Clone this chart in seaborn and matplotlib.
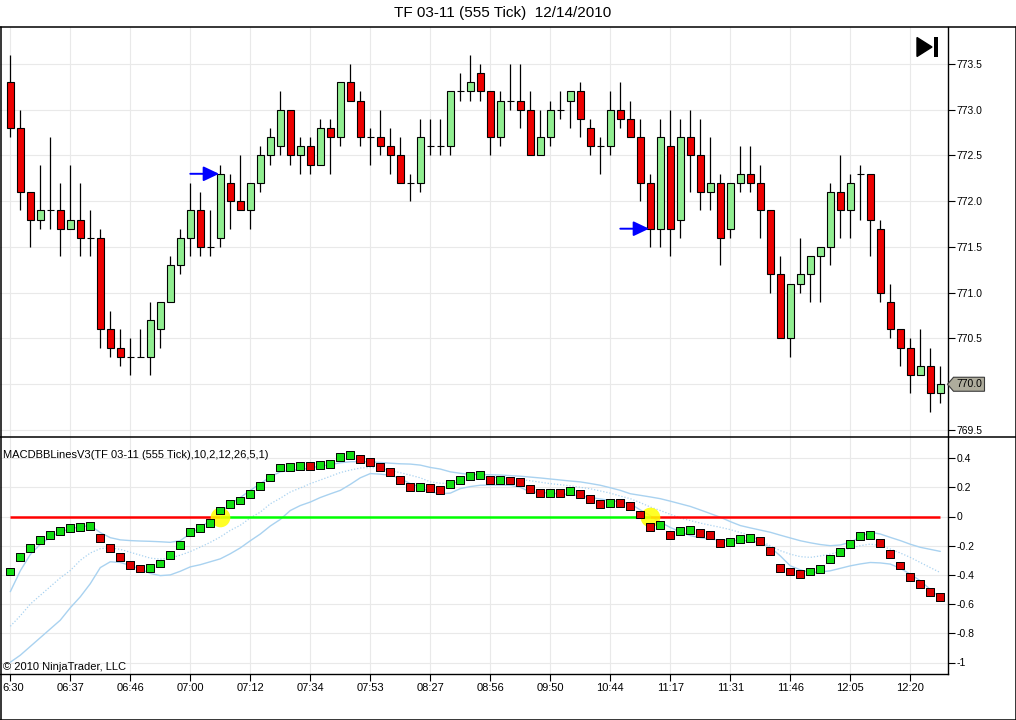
import numpy as np
import pandas as pd
import matplotlib
matplotlib.use("Agg")
import matplotlib.pyplot as plt
import matplotlib.transforms as mtransforms
from matplotlib.patches import Polygon, Rectangle
from matplotlib.lines import Line2D
import seaborn as sns

# ---------------- data ----------------
title = "TF 03-11 (555 Tick)  12/14/2010"
indicator_label = "MACDBBLinesV3(TF 03-11 (555 Tick),10,2,12,26,5,1)"
copyright_label = "\u00a9 2010 NinjaTrader, LLC"

opens = [773.3, 772.8, 772.1, 771.8, 771.9, 771.9, 771.7, 771.8, 771.6, 771.6,
         770.6, 770.4, 770.3, 770.3, 770.3, 770.6, 770.9, 771.3, 771.6, 771.9,
         771.5, 771.6, 772.2, 772.0, 771.9, 772.2, 772.5, 772.6, 773.0, 772.5,
         772.6, 772.4, 772.8, 772.7, 773.3, 773.1, 772.7, 772.7, 772.6, 772.5,
         772.2, 772.2, 772.6, 772.6, 772.6, 773.2, 773.2, 773.4, 773.2, 772.7,
         773.1, 773.1, 773.0, 772.5, 772.7, 773.0, 773.1, 773.2, 772.8, 772.6,
         772.6, 773.0, 772.9, 772.7, 772.2, 771.7, 772.6, 771.8, 772.7, 772.5,
         772.1, 772.2, 771.7, 772.2, 772.3, 772.2, 771.9, 771.2, 770.5, 771.1,
         771.2, 771.4, 771.5, 772.1, 771.9, 772.3, 772.3, 771.7, 770.9, 770.6,
         770.4, 770.1, 770.2, 769.9]
highs = [773.6, 773.0, 772.1, 772.4, 772.7, 772.2, 772.4, 772.2, 771.9, 771.7,
         770.8, 770.6, 770.5, 770.6, 770.9, 770.9, 771.4, 771.7, 772.2, 772.1,
         771.9, 772.4, 772.3, 772.5, 772.2, 772.6, 772.8, 773.2, 773.0, 772.7,
         772.7, 772.9, 772.9, 773.3, 773.5, 773.2, 772.8, 773.0, 772.8, 772.7,
         772.3, 772.9, 772.9, 772.9, 773.2, 773.4, 773.6, 773.5, 773.2, 773.2,
         773.5, 773.5, 773.2, 773.0, 773.1, 773.2, 773.2, 773.3, 772.9, 772.7,
         773.2, 773.3, 773.1, 772.9, 772.3, 772.9, 773.0, 772.9, 773.0, 772.9,
         772.7, 772.3, 772.2, 772.6, 772.6, 772.4, 771.9, 771.4, 771.1, 771.6,
         771.4, 771.5, 772.2, 772.5, 772.3, 772.4, 772.3, 771.8, 771.1, 770.6,
         770.5, 770.6, 770.4, 770.2]
lows = [772.7, 771.9, 771.5, 771.7, 771.7, 771.4, 771.7, 771.4, 771.4, 770.4,
        770.3, 770.2, 770.1, 770.3, 770.1, 770.4, 770.9, 771.2, 771.4, 771.4,
        771.4, 771.5, 771.7, 771.9, 771.7, 772.1, 772.4, 772.5, 772.4, 772.3,
        772.3, 772.4, 772.3, 772.6, 773.1, 772.6, 772.4, 772.5, 772.3, 772.2,
        772.0, 772.1, 772.5, 772.5, 772.5, 773.1, 773.1, 773.1, 772.5, 772.6,
        773.0, 772.8, 772.5, 772.5, 772.6, 772.9, 772.8, 772.7, 772.5, 772.3,
        772.5, 772.8, 772.7, 772.0, 771.5, 771.5, 771.4, 771.6, 772.1, 771.9,
        771.9, 771.3, 771.6, 772.1, 772.1, 771.6, 771.0, 770.5, 770.3, 771.0,
        770.9, 770.9, 771.3, 771.6, 771.6, 771.8, 771.4, 770.9, 770.5, 770.2,
        769.9, 770.1, 769.7, 769.8]
closes = [772.8, 772.1, 771.8, 771.9, 771.9, 771.7, 771.8, 771.6, 771.6, 770.6,
          770.4, 770.3, 770.3, 770.3, 770.7, 770.9, 771.3, 771.6, 771.9, 771.5,
          771.5, 772.3, 772.0, 771.9, 772.2, 772.5, 772.7, 773.0, 772.5, 772.6,
          772.4, 772.8, 772.7, 773.3, 773.1, 772.7, 772.7, 772.6, 772.5, 772.2,
          772.2, 772.7, 772.6, 772.6, 773.2, 773.2, 773.3, 773.2, 772.7, 773.1,
          773.1, 773.0, 772.5, 772.7, 773.0, 773.0, 773.2, 772.9, 772.6, 772.6,
          773.0, 772.9, 772.7, 772.2, 771.7, 772.7, 771.7, 772.7, 772.5, 772.1,
          772.2, 771.6, 772.2, 772.3, 772.2, 771.9, 771.2, 770.5, 771.1, 771.2,
          771.4, 771.5, 772.1, 771.9, 772.2, 772.3, 771.8, 771.0, 770.6, 770.4,
          770.1, 770.2, 769.9, 770.0]

macd = [-0.377, -0.280, -0.218, -0.163, -0.124, -0.101, -0.076, -0.069, -0.067, -0.145,
        -0.218, -0.280, -0.331, -0.356, -0.352, -0.322, -0.262, -0.193, -0.108, -0.076,
        -0.046, 0.041, 0.085, 0.110, 0.154, 0.209, 0.267, 0.336, 0.340, 0.347,
        0.343, 0.352, 0.359, 0.409, 0.421, 0.393, 0.372, 0.340, 0.303, 0.248,
        0.202, 0.203, 0.193, 0.179, 0.223, 0.248, 0.278, 0.285, 0.248, 0.249,
        0.247, 0.234, 0.186, 0.161, 0.162, 0.160, 0.175, 0.154, 0.117, 0.085,
        0.092, 0.090, 0.071, 0.014, -0.074, -0.060, -0.129, -0.097, -0.090, -0.115,
        -0.129, -0.184, -0.177, -0.156, -0.149, -0.170, -0.239, -0.352, -0.377, -0.391,
        -0.377, -0.359, -0.290, -0.246, -0.191, -0.136, -0.129, -0.184, -0.258, -0.336,
        -0.414, -0.462, -0.515, -0.552]
dot_dir = (["up"] * 9 + ["dn"] * 5 + ["up"] * 16 + ["dn"] + ["up"] * 4 + ["dn"] * 6 +
           ["up"] + ["dn"] * 2 + ["up"] * 4 + ["dn"] + ["up"] + ["dn"] * 4 + ["up"] +
           ["dn"] + ["up"] + ["dn"] * 3 + ["up"] + ["dn"] * 4 + ["up"] + ["dn"] +
           ["up"] * 2 + ["dn"] * 3 + ["up"] * 3 + ["dn"] * 5 + ["up"] * 7 + ["dn"] * 7)

band_upper = [-0.515, -0.372, -0.260, -0.190, -0.143, -0.105, -0.085, -0.070, -0.062, -0.110,
              -0.145, -0.160, -0.165, -0.168, -0.170, -0.173, -0.177, -0.165, -0.117, -0.075,
              -0.028, 0.025, 0.085, 0.130, 0.179, 0.225, 0.271, 0.306, 0.315, 0.322,
              0.333, 0.345, 0.355, 0.368, 0.375, 0.376, 0.374, 0.370, 0.365, 0.361,
              0.359, 0.352, 0.336, 0.325, 0.306, 0.296, 0.287, 0.287, 0.286, 0.284,
              0.280, 0.276, 0.270, 0.264, 0.257, 0.250, 0.243, 0.237, 0.226, 0.214,
              0.197, 0.179, 0.156, 0.145, 0.134, 0.122, 0.105, 0.087, 0.069, 0.045,
              0.020, -0.005, -0.035, -0.062, -0.078, -0.093, -0.108, -0.128, -0.147, -0.166,
              -0.180, -0.192, -0.200, -0.195, -0.177, -0.140, -0.108, -0.120, -0.143, -0.165,
              -0.190, -0.211, -0.225, -0.239]
band_mid = [-0.752, -0.680, -0.600, -0.540, -0.480, -0.420, -0.370, -0.300, -0.250, -0.220,
            -0.215, -0.225, -0.245, -0.265, -0.285, -0.292, -0.285, -0.265, -0.240, -0.210,
            -0.177, -0.140, -0.095, -0.060, -0.010, 0.030, 0.087, 0.125, 0.168, 0.195,
            0.225, 0.250, 0.275, 0.301, 0.318, 0.332, 0.336, 0.330, 0.315, 0.300,
            0.283, 0.265, 0.237, 0.228, 0.225, 0.240, 0.260, 0.268, 0.271, 0.265,
            0.258, 0.253, 0.245, 0.235, 0.225, 0.218, 0.210, 0.200, 0.190, 0.175,
            0.160, 0.140, 0.122, 0.095, 0.065, 0.041, 0.015, -0.010, -0.028, -0.045,
            -0.060, -0.074, -0.090, -0.110, -0.131, -0.165, -0.200, -0.234, -0.258, -0.275,
            -0.280, -0.270, -0.258, -0.240, -0.216, -0.200, -0.189, -0.200, -0.223, -0.250,
            -0.280, -0.315, -0.350, -0.384]
band_lower = [-0.998, -0.950, -0.890, -0.830, -0.770, -0.710, -0.625, -0.550, -0.460, -0.350,
              -0.310, -0.315, -0.335, -0.360, -0.390, -0.405, -0.400, -0.375, -0.345, -0.330,
              -0.310, -0.290, -0.255, -0.215, -0.166, -0.120, -0.065, -0.020, 0.041, 0.075,
              0.099, 0.130, 0.155, 0.179, 0.220, 0.265, 0.294, 0.290, 0.283, 0.260,
              0.225, 0.200, 0.168, 0.156, 0.160, 0.191, 0.205, 0.214, 0.215, 0.215,
              0.214, 0.200, 0.168, 0.165, 0.160, 0.155, 0.150, 0.140, 0.130, 0.120,
              0.110, 0.100, 0.087, 0.045, 0.005, -0.039, -0.075, -0.105, -0.131, -0.145,
              -0.155, -0.161, -0.163, -0.165, -0.166, -0.180, -0.211, -0.270, -0.338, -0.365,
              -0.384, -0.380, -0.372, -0.355, -0.338, -0.325, -0.315, -0.318, -0.326, -0.355,
              -0.395, -0.440, -0.500, -0.556]

signal_bars = [21, 64]          # bars marked by the blue arrows / yellow circles
zero_line_colors = ["red", "lime", "red"]
zero_line_breaks = [0, 21, 64, 93]

tick_bars = [0, 6, 12, 18, 24, 30, 36, 42, 48, 54, 60, 66, 72, 78, 84, 90]
tick_labels = ["6:30", "06:37", "06:46", "07:00", "07:12", "07:34", "07:53", "08:27",
               "08:56", "09:50", "10:44", "11:17", "11:31", "11:46", "12:05", "12:20"]
price_ticks = [769.5, 770.0, 770.5, 771.0, 771.5, 772.0, 772.5, 773.0, 773.5]
macd_ticks = [-1.0, -0.8, -0.6, -0.4, -0.2, 0.0, 0.2, 0.4]
macd_tick_labels = ["-1", "-0.8", "-0.6", "-0.4", "-0.2", "0", "0.2", "0.4"]

# ---------------- style ----------------
sns.set_style("white")
plt.rcParams["font.family"] = ["Liberation Sans", "DejaVu Sans"]

W, H = 1016, 720
fig = plt.figure(figsize=(W / 100, H / 100), dpi=100)
fig.patch.set_facecolor("white")


def fx(px):
    return px / W


def fy(py):
    return 1 - py / H


X_RIGHT = 947.5
TOP, SEP, BOT = 27, 437, 674
ax1 = fig.add_axes([0, fy(SEP), fx(X_RIGHT), (SEP - TOP) / H])
ax2 = fig.add_axes([0, fy(BOT), fx(X_RIGHT), (BOT - SEP) / H])

n = len(closes)
idx = np.arange(n)
xlim = (-10.3 / 10, (X_RIGHT - 10.3) / 10)

GRID = "#e9e9e9"
for ax in (ax1, ax2):
    ax.set_facecolor("white")
    ax.set_xlim(*xlim)
    ax.set_xticks(tick_bars)
    for s in ("top", "left"):
        ax.spines[s].set_visible(False)
    ax.spines["right"].set_color("black")
    ax.spines["right"].set_linewidth(1.0)
    ax.yaxis.tick_right()
    ax.tick_params(axis="y", direction="out", length=5, width=0.8, pad=1.5,
                   labelsize=7.5, colors="black", right=True, left=False)
    ax.grid(True, color=GRID, lw=0.8)
    ax.set_axisbelow(True)
    ax.set_xlabel("")
    ax.set_ylabel("")

ax1.spines["bottom"].set_visible(False)
ax1.tick_params(axis="x", length=0, labelbottom=False)
ax2.spines["bottom"].set_color("black")
ax2.spines["bottom"].set_linewidth(1.0)
ax2.set_xticklabels(tick_labels)
ax2.tick_params(axis="x", direction="out", length=5, width=0.8, pad=1.5,
                labelsize=8, colors="black", bottom=True)
# first time label sits at the left border: anchor it to its left edge
first_lbl = ax2.get_xticklabels()[0]
first_lbl.set_horizontalalignment("left")
first_lbl.set_transform(first_lbl.get_transform() +
                        mtransforms.ScaledTranslation(-7.5 / 100, 0, fig.dpi_scale_trans))

# ---------------- price panel ----------------
ax1.set_ylim(773.5 - (SEP - 64) / 91.5, 773.5 + (64 - TOP) / 91.5)
ax1.set_yticks(price_ticks)
ax1.set_yticklabels([f"{p:.1f}" for p in price_ticks])

o = np.array(opens)
c = np.array(closes)
body_bottom = np.minimum(o, c)
body_height = np.abs(c - o)
body_colors = np.where(c > o, "#90ee90", "#ee0000")
ax1.vlines(idx, lows, highs, color="black", lw=0.9, zorder=2)
ax1.bar(idx, body_height, bottom=body_bottom, width=0.66, color=body_colors,
        edgecolor="black", linewidth=0.8, zorder=3)

for b in signal_bars:
    ax1.annotate("", xy=(b - 0.12, closes[b]), xytext=(b - 3.0, closes[b]),
                 arrowprops=dict(arrowstyle="-|>,head_length=0.95,head_width=0.45",
                                 color="#0000ff", lw=1.4, mutation_scale=10,
                                 shrinkA=0, shrinkB=0), zorder=4)

# last price tag
trans = mtransforms.blended_transform_factory(ax1.transAxes, ax1.transData)
last = closes[-1]
hh = 7 / 91.5
px = 1 / X_RIGHT
tag = Polygon([(1.0, last), (1 + 6 * px, last + hh), (1 + 37 * px, last + hh),
               (1 + 37 * px, last - hh), (1 + 6 * px, last - hh)], closed=True,
              transform=trans, facecolor="#aeac9c", edgecolor="#3a3a3a", lw=0.8,
              clip_on=False, zorder=10)
ax1.add_patch(tag)
ax1.text(1 + 21.5 * px, last, f"{last:.1f}", transform=trans, ha="center", va="center",
         fontsize=7.5, color="black", zorder=11, clip_on=False)

# ---------------- MACD panel ----------------
ax2.set_ylim((516.5 - BOT) / 146, (516.5 - SEP) / 146)
ax2.set_yticks(macd_ticks)
ax2.set_yticklabels(macd_tick_labels)

BAND = "#a9d2f0"
sns.lineplot(x=idx, y=band_upper, ax=ax2, color=BAND, lw=1.0, zorder=2)
sns.lineplot(x=idx, y=band_lower, ax=ax2, color=BAND, lw=1.0, zorder=2)
sns.lineplot(x=idx, y=band_mid, ax=ax2, color=BAND, lw=0.9, zorder=2,
             linestyle=(0, (1, 1.5)))

for k in range(len(zero_line_colors)):
    a, b = zero_line_breaks[k], zero_line_breaks[k + 1]
    ax2.plot([a, b], [0, 0], color=zero_line_colors[k], lw=1.8, zorder=3,
             solid_capstyle="butt")

ax2.scatter(signal_bars, [0] * len(signal_bars), s=200, color="#ffff00", alpha=0.85,
            linewidths=0, zorder=4)

df = pd.DataFrame({"bar": idx, "macd": macd, "dir": dot_dir})
sns.scatterplot(data=df, x="bar", y="macd", hue="dir",
                palette={"up": "#11dd11", "dn": "#dd0000"}, marker="s", s=32,
                edgecolor="black", linewidth=0.7, legend=False, ax=ax2, zorder=5)
ax2.set_xlabel("")
ax2.set_ylabel("")

# ---------------- texts and frame ----------------
fig.text(0.5 * (390 + 615) / W, fy(13), title, ha="center", va="center", fontsize=11,
         color="black")
fig.text(fx(3), fy(455.5), indicator_label, ha="left", va="center", fontsize=8,
         color="black")
fig.text(fx(3), fy(667), copyright_label, ha="left", va="center", fontsize=8,
         color="black")

tf = fig.transFigure
for (x0, y0, x1, y1) in [(0, TOP, 1015.5, TOP), (0, SEP, 1015.5, SEP),
                         (0.5, TOP, 0.5, 719.5), (1015.5, TOP, 1015.5, 719.5),
                         (0, 719.5, 1015.5, 719.5)]:
    fig.add_artist(Line2D([fx(x0), fx(x1)], [fy(y0), fy(y1)], transform=tf,
                          color="black", lw=1.1))

# end-of-chart icon (top right)
fig.add_artist(Polygon([(fx(917), fy(37.5)), (fx(932), fy(47)), (fx(917), fy(56.5))],
                       closed=True, transform=tf, facecolor="black", edgecolor="black"))
fig.add_artist(Rectangle((fx(933.5), fy(56.5)), fx(4), (56.5 - 37.5) / H, transform=tf,
                         facecolor="black", edgecolor="none"))

fig.savefig("out.png", dpi=100, facecolor="white")
